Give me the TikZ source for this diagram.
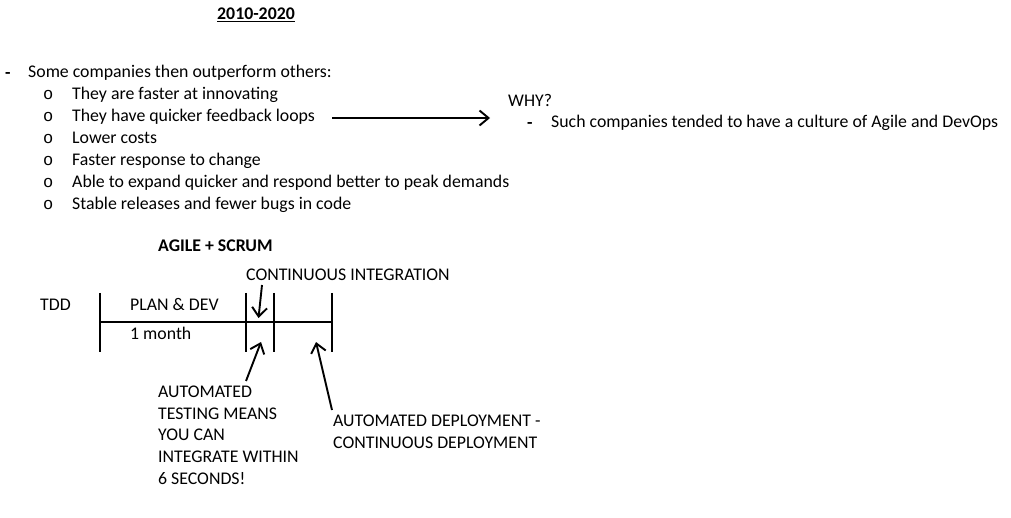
\documentclass[tikz,border=0pt]{standalone}
\usepackage{fontspec}
\setmainfont{Carlito}
\newfontfamily\bulletfont{Liberation Mono}
\usetikzlibrary{arrows.meta}
\tikzset{
  txt/.style={anchor=base west, inner sep=0pt, font=\fontsize{17.8}{21}\selectfont},
  bul/.style={anchor=base west, inner sep=0pt, font=\fontsize{17}{20}\bulletfont},
  tick/.style={line width=2pt},
  ptr/.style={line width=1.9pt, -{Straight Barb[length=9pt,width=15pt,line width=1.9pt]}}
}
\begin{document}
\begin{tikzpicture}[x=1pt,y=-1pt]
    \useasboundingbox (0,0) rectangle (1011,518);
    % titre
    \node[txt] (titre) at (217,20) {\underline{\textbf{2010-2020}}};
    % liste
    \node[txt] (tiret) at (5,79) {\textbf{-}};
    \node[txt] (intro) at (28,78) {Some companies then outperform others:};
    \foreach \y/\t [count=\i] in {100/They are faster at innovating,
        122/They have quicker feedback loops,
        144/Lower costs,
        166/Faster response to change,
        188/Able to expand quicker and respond better to peak demands,
        210/Stable releases and fewer bugs in code} {
      \node[bul] (b\i) at (43,\y) {o};
      \node[txt] (item\i) at (72,\y) {\t};
    }
    % fleche vers WHY?
    \coordinate (feedA) at (332,118);
    \coordinate (feedB) at (490,118);
    \draw[ptr] (feedA) -- (feedB);
    \node[txt] (why) at (508,107) {WHY?};
    \node[txt] (tiret2) at (527,129) {\textbf{-}};
    \node[txt] (culture) at (551,128) {Such companies tended to have a culture of Agile and DevOps};
    % agile + scrum
    \node[txt] (agile) at (158,252) {\textbf{AGILE + SCRUM}};
    \node[txt] (ci) at (246,281) {CONTINUOUS INTEGRATION};
    \node[txt] (tdd) at (40,310) {TDD};
    \node[txt] (plan) at (130,310) {PLAN \& DEV};
    \node[txt] (month) at (130,339) {1 month};
    % ligne de temps
    \coordinate (t0) at (100,322);
    \coordinate (t1) at (246,322);
    \coordinate (t2) at (274,322);
    \coordinate (t3) at (332,322);
    \draw[tick] (t0) -- (t3);
    \foreach \c in {t0,t1,t2,t3}
      \draw[tick] ([yshift=29pt]\c) -- ([yshift=-30pt]\c);
    % fleches
    \coordinate (ciA) at (262,285);
    \coordinate (ciB) at (258.5,318);
    \draw[ptr] (ciA) -- (ciB);
    \coordinate (testA) at (246,381);
    \coordinate (testB) at (261,342);
    \draw[ptr] (testA) -- (testB);
    \coordinate (depA) at (332,410);
    \coordinate (depB) at (316,342);
    \draw[ptr] (depA) -- (depB);
    % textes du bas
    \foreach \y/\t [count=\i] in {397/AUTOMATED, 419/TESTING MEANS, 440/YOU CAN,
        462/INTEGRATE WITHIN, 484/6 SECONDS!}
      \node[txt] (test\i) at (158,\y) {\t};
    \node[txt] (dep1) at (333,426) {AUTOMATED DEPLOYMENT -};
    \node[txt] (dep2) at (333,448) {CONTINUOUS DEPLOYMENT};
\end{tikzpicture}
\end{document}
